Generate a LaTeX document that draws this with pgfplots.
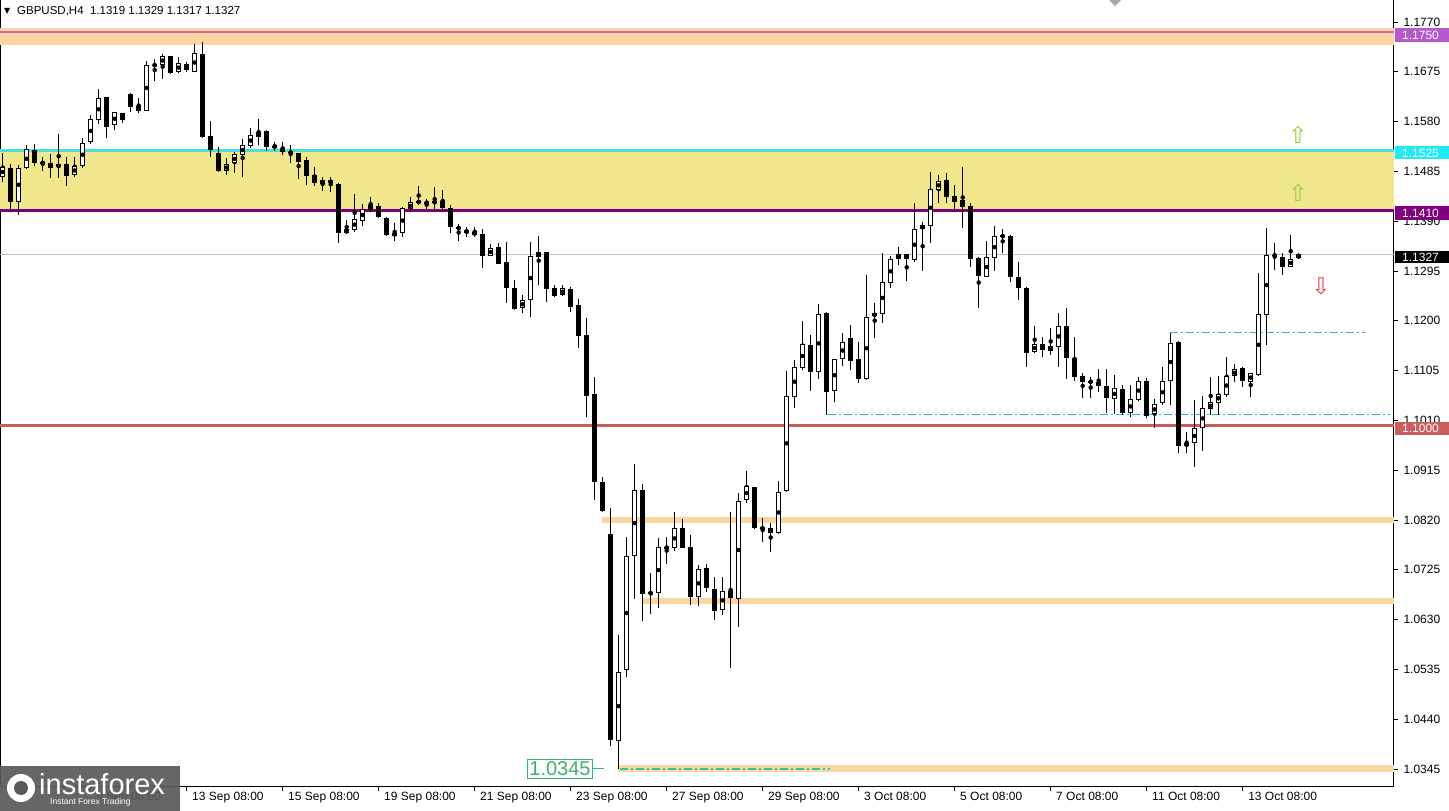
\documentclass[border=0pt]{standalone}
\usepackage{pgfplots}
\pgfplotsset{compat=1.18}
\usepackage{pgfplotstable}
\usepackage{fontspec}
\setmainfont{Liberation Sans}
\newfontfamily\dejavu{DejaVu Sans}
\definecolor{zoneyellow}{RGB}{240,230,140}
\definecolor{peach}{RGB}{250,214,160}
\definecolor{pinkline}{RGB}{205,105,175}
\definecolor{pinkbox}{RGB}{180,90,205}
\definecolor{cyanline}{RGB}{70,225,215}
\definecolor{cyanbox}{RGB}{30,235,245}
\definecolor{purpleline}{RGB}{128,0,128}
\definecolor{redline}{RGB}{205,92,92}
\definecolor{dashcyan}{RGB}{50,180,200}
\definecolor{lvlgreen}{RGB}{60,179,113}
\definecolor{arrgreen}{RGB}{154,205,50}
\definecolor{arrred}{RGB}{235,70,70}
\pgfplotstableread{
k o h l c
0 1.14749 1.15194 1.14654 1.14927
1 1.14921 1.14984 1.14081 1.14272
2 1.14272 1.14972 1.14018 1.14921
3 1.14908 1.15353 1.14890 1.15277
4 1.15258 1.15366 1.14959 1.15016
5 1.15023 1.15131 1.14863 1.15003
6 1.15003 1.15175 1.14730 1.14908
7 1.14927 1.15563 1.14717 1.14984
8 1.14984 1.15118 1.14571 1.14768
9 1.14781 1.15131 1.14749 1.14953
10 1.14953 1.15480 1.14908 1.15385
11 1.15404 1.15926 1.15366 1.15843
12 1.15830 1.16415 1.15747 1.16243
13 1.16263 1.16270 1.15480 1.15703
14 1.15735 1.15989 1.15639 1.15976
15 1.15957 1.15970 1.15767 1.15830
16 1.16326 1.16351 1.15976 1.16072
17 1.16097 1.16243 1.15970 1.16008
18 1.16008 1.16956 1.15995 1.16879
19 1.16867 1.16987 1.16580 1.16886
20 1.16879 1.17089 1.16606 1.17051
21 1.17051 1.17060 1.16701 1.16733
22 1.16752 1.17026 1.16720 1.16911
23 1.16898 1.16930 1.16752 1.16784
24 1.16752 1.17280 1.16745 1.17102
25 1.17089 1.17324 1.15493 1.15512
26 1.15525 1.15817 1.15118 1.15258
27 1.15194 1.15321 1.14844 1.14864
28 1.14864 1.15099 1.14781 1.14984
29 1.15004 1.15226 1.14826 1.15175
30 1.15163 1.15461 1.14749 1.15353
31 1.15334 1.15671 1.15302 1.15544
32 1.15512 1.15849 1.15353 1.15608
33 1.15627 1.15639 1.15245 1.15322
34 1.15334 1.15417 1.15245 1.15309
35 1.15290 1.15417 1.15163 1.15220
36 1.15216 1.15353 1.15016 1.15207
37 1.15194 1.15207 1.14698 1.15035
38 1.15067 1.15131 1.14590 1.14768
39 1.14781 1.14940 1.14571 1.14622
40 1.14609 1.14749 1.14476 1.14686
41 1.14686 1.14749 1.14463 1.14622
42 1.14610 1.14623 1.13478 1.13669
43 1.13669 1.13923 1.13656 1.13745
44 1.13732 1.14419 1.13701 1.13936
45 1.13910 1.14228 1.13809 1.14127
46 1.14114 1.14368 1.14082 1.14209
47 1.14190 1.14241 1.13955 1.13987
48 1.13955 1.13987 1.13618 1.13637
49 1.13618 1.13872 1.13523 1.13682
50 1.13682 1.14165 1.13592 1.14146
51 1.14127 1.14356 1.14101 1.14260
52 1.14279 1.14572 1.14209 1.14260
53 1.14260 1.14317 1.14114 1.14247
54 1.14241 1.14559 1.14082 1.14286
55 1.14286 1.14495 1.14082 1.14146
56 1.14145 1.14209 1.13681 1.13795
57 1.13795 1.13846 1.13528 1.13744
58 1.13732 1.13795 1.13605 1.13681
59 1.13700 1.13795 1.13605 1.13636
60 1.13655 1.13744 1.13000 1.13242
61 1.13242 1.13465 1.13235 1.13382
62 1.13401 1.13477 1.13077 1.13083
63 1.13128 1.13509 1.12333 1.12632
64 1.12619 1.12778 1.12206 1.12225
65 1.12237 1.12492 1.12155 1.12396
66 1.12396 1.13509 1.12078 1.13236
67 1.13223 1.13617 1.12682 1.13306
68 1.13306 1.13318 1.12365 1.12600
69 1.12632 1.12682 1.12460 1.12473
70 1.12492 1.12683 1.12473 1.12619
71 1.12600 1.12651 1.12174 1.12270
72 1.12301 1.12409 1.11475 1.11716
73 1.11729 1.12047 1.10171 1.10572
74 1.10604 1.10921 1.08581 1.08931
75 1.08925 1.09014 1.08359 1.08378
76 1.07926 1.08422 1.03888 1.04003
77 1.03990 1.06006 1.03443 1.05306
78 1.05338 1.07882 1.05211 1.07513
79 1.07513 1.09268 1.06686 1.08772
80 1.08772 1.08880 1.06279 1.06788
81 1.06782 1.07195 1.06407 1.06826
82 1.06814 1.07850 1.06515 1.07678
83 1.07672 1.07882 1.07354 1.07678
84 1.07660 1.08359 1.07615 1.08041
85 1.08041 1.08213 1.07660 1.07673
86 1.07679 1.07914 1.06579 1.06738
87 1.06725 1.07342 1.06566 1.07259
88 1.07278 1.07361 1.06833 1.06897
89 1.06878 1.07107 1.06293 1.06471
90 1.06483 1.07107 1.06388 1.06852
91 1.06852 1.08359 1.05371 1.06706
92 1.06687 1.08722 1.06165 1.08569
93 1.08582 1.09142 1.08518 1.08849
94 1.08824 1.08830 1.08022 1.08041
95 1.08022 1.08232 1.07787 1.08060
96 1.08041 1.08137 1.07596 1.07946
97 1.07946 1.08951 1.07933 1.08741
98 1.08759 1.11048 1.08740 1.10565
99 1.10552 1.11252 1.10343 1.11125
100 1.11106 1.11996 1.11061 1.11551
101 1.11538 1.11729 1.10667 1.11029
102 1.11017 1.12320 1.10889 1.12123
103 1.12142 1.12161 1.10203 1.10648
104 1.10660 1.11277 1.10457 1.11265
105 1.11265 1.11773 1.11137 1.11602
106 1.11665 1.11920 1.11061 1.11239
107 1.11265 1.11602 1.10819 1.10889
108 1.10889 1.12874 1.10870 1.12066
109 1.12091 1.12346 1.11665 1.12142
110 1.12129 1.13300 1.11964 1.12746
111 1.12715 1.13237 1.12620 1.13173
112 1.13173 1.13402 1.13065 1.13268
113 1.13268 1.13275 1.12766 1.13173
114 1.13160 1.14254 1.13128 1.13745
115 1.13745 1.13892 1.12957 1.13828
116 1.13809 1.14845 1.13478 1.14508
117 1.14496 1.14782 1.14241 1.14674
118 1.14686 1.14826 1.14241 1.14369
119 1.14381 1.14591 1.14082 1.14273
120 1.14305 1.14941 1.13764 1.14178
121 1.14197 1.14254 1.13020 1.13173
122 1.13192 1.13224 1.12238 1.12855
123 1.12842 1.13529 1.12835 1.13211
124 1.13192 1.13809 1.12957 1.13618
125 1.13592 1.13745 1.13287 1.13637
126 1.13618 1.13637 1.12747 1.12842
127 1.12829 1.13128 1.12397 1.12619
128 1.12619 1.12651 1.11112 1.11392
129 1.11411 1.11901 1.11379 1.11551
130 1.11558 1.11697 1.11316 1.11443
131 1.11430 1.11869 1.11348 1.11519
132 1.11507 1.12155 1.11112 1.11901
133 1.11901 1.12238 1.10883 1.11284
134 1.11297 1.11685 1.10858 1.10934
135 1.10947 1.10998 1.10521 1.10839
136 1.10845 1.10934 1.10521 1.10833
137 1.10839 1.11074 1.10648 1.10763
138 1.10763 1.11074 1.10234 1.10521
139 1.10502 1.10966 1.10222 1.10711
140 1.10692 1.10775 1.10203 1.10234
141 1.10234 1.10775 1.10171 1.10502
142 1.10489 1.10934 1.10476 1.10851
143 1.10851 1.10902 1.10139 1.10190
144 1.10215 1.10508 1.09948 1.10406
145 1.10425 1.11125 1.10393 1.10851
146 1.10858 1.11761 1.10393 1.11570
147 1.11602 1.11614 1.09484 1.09618
148 1.09618 1.09885 1.09471 1.09662
149 1.09662 1.10489 1.09204 1.09948
150 1.09948 1.10565 1.09522 1.10330
151 1.10311 1.10934 1.10203 1.10444
152 1.10438 1.10947 1.10203 1.10604
153 1.10585 1.11316 1.10553 1.10947
154 1.10947 1.11176 1.10839 1.11074
155 1.11106 1.11125 1.10731 1.10858
156 1.10839 1.11011 1.10540 1.10998
157 1.10966 1.12918 1.10947 1.12123
158 1.12111 1.13764 1.11538 1.13255
159 1.13243 1.13478 1.12969 1.13255
160 1.13211 1.13287 1.12874 1.13033
161 1.13033 1.13637 1.13020 1.13173
162 1.13190 1.13290 1.13170 1.13270
}\candles
\begin{document}
\begin{tikzpicture}[x=1pt,y=1pt]
\begin{axis}[
  at={(0,0)}, anchor=south west,
  scale only axis, width=1394pt, height=787pt,
  xmin=-0.3375, xmax=173.91, ymin=1.03107, ymax=1.18120,
  clip mode=individual,
  axis line style={line width=1pt, black},
  xtick={11,23,35,47,59,71,83,95,107,119,131,143,155},
  xticklabels={9 Sep 08:00,13 Sep 08:00,15 Sep 08:00,19 Sep 08:00,21 Sep 08:00,23 Sep 08:00,27 Sep 08:00,29 Sep 08:00,3 Oct 08:00,5 Oct 08:00,7 Oct 08:00,11 Oct 08:00,13 Oct 08:00},
  xtick pos=bottom, ytick pos=right,
  tick align=outside, major tick length=4pt,
  tick style={black, line width=1pt},
  x tick label style={anchor=north west, xshift=2pt, yshift=2pt, font=\fontsize{12}{14}\selectfont},
  ytick={1.0345,1.0440,1.0535,1.0630,1.0725,1.0820,1.0915,1.1010,1.1105,1.1200,1.1295,1.1390,1.1485,1.1580,1.1675,1.1770},
  yticklabel pos=right,
  y tick label style={anchor=west, xshift=2pt, font=\fontsize{12}{14}\selectfont,
    /pgf/number format/fixed, /pgf/number format/fixed zerofill, /pgf/number format/precision=4},
  /pgf/number format/assume math mode=true,
  scaled y ticks=false,
]
% zones
\addplot[draw=none, fill=zoneyellow, forget plot] coordinates {(-0.3375,1.1410) (173.91,1.1410) (173.91,1.1525) (-0.3375,1.1525)} -- cycle;
\addplot[draw=none, fill=peach, forget plot] coordinates {(-0.3375,1.1727) (173.91,1.1727) (173.91,1.1758) (-0.3375,1.1758)} -- cycle;
\addplot[peach, line width=6pt, forget plot] coordinates {(74.9,1.08208) (173.91,1.08208)};
\addplot[peach, line width=6pt, forget plot] coordinates {(80.0,1.06655) (173.91,1.06655)};
\addplot[peach, line width=7pt, forget plot] coordinates {(76.9,1.0346) (173.91,1.0346)};
% levels
\addplot[pinkline, line width=2pt, forget plot] coordinates {(-0.3375,1.1750) (173.91,1.1750)};
\addplot[cyanline, line width=3pt, forget plot] coordinates {(-0.3375,1.1525) (173.91,1.1525)};
\addplot[purpleline, line width=3pt, forget plot] coordinates {(-0.3375,1.1410) (173.91,1.1410)};
\addplot[redline, line width=3pt, forget plot] coordinates {(-0.3375,1.1000) (173.91,1.1000)};
\addplot[black!25, line width=1pt, forget plot] coordinates {(-0.3375,1.1327) (173.91,1.1327)};
\addplot[dashcyan, line width=1.2pt, dash pattern=on 8pt off 3pt on 2pt off 3pt, forget plot] coordinates {(145.9,1.1177) (170.3,1.1177)};
\addplot[dashcyan, line width=1.2pt, dash pattern=on 8pt off 3pt on 2pt off 3pt, forget plot] coordinates {(103.2,1.10215) (173.4,1.10215)};
\addplot[lvlgreen!70!cyan, line width=1.2pt, dash pattern=on 8pt off 3pt on 2pt off 3pt, forget plot] coordinates {(77.2,1.0345) (103.4,1.0345)};
% wicks
\addplot[only marks, mark=none, forget plot,
  error bars/.cd, y dir=both, y explicit, error mark=none,
  error bar style={line width=1pt, draw=black}]
  table[x=k, y expr={(\thisrow{h}+\thisrow{l})/2}, y error expr={(\thisrow{h}-\thisrow{l})/2}] {\candles};
% bodies outer
\addplot[only marks, mark=none, forget plot,
  error bars/.cd, y dir=both, y explicit, error mark=none,
  error bar style={line width=5pt, draw=black}]
  table[x=k, y expr={(\thisrow{o}+\thisrow{c})/2}, y error expr={max(abs(\thisrow{c}-\thisrow{o})/2,0.0001)}] {\candles};
% bodies inner (bullish)
\addplot[only marks, mark=none, forget plot,
  error bars/.cd, y dir=both, y explicit, error mark=none,
  error bar style={line width=3pt, draw=white}]
  table[x=k, y expr={(\thisrow{o}+\thisrow{c})/2}, y error expr={ifthenelse(\thisrow{c}>\thisrow{o}, max((\thisrow{c}-\thisrow{o})/2-0.00019,0), 0)}] {\candles};
\end{axis}
% shift marker
\fill[black!35] (1109,787) -- (1121,787) -- (1115,781) -- cycle;
% right price labels
\fill[pinkbox] (1395,745.3) rectangle (1449,758.7);
\node[anchor=west, text=white, font=\fontsize{12}{14}\selectfont, inner sep=0pt] at (1402,752) {1.1750};
\fill[cyanbox] (1395,627.5) rectangle (1449,640.5);
\node[anchor=west, text=white, font=\fontsize{12}{14}\selectfont, inner sep=0pt] at (1402,634) {1.1525};
\fill[purpleline] (1395,567) rectangle (1449,581);
\node[anchor=west, text=white, font=\fontsize{12}{14}\selectfont, inner sep=0pt] at (1402,574) {1.1410};
\fill[black] (1395,523.5) rectangle (1449,535.5);
\node[anchor=west, text=white, font=\fontsize{12}{14}\selectfont, inner sep=0pt] at (1402,529.5) {1.1327};
\fill[redline] (1395,352) rectangle (1449,365.4);
\node[anchor=west, text=white, font=\fontsize{12}{14}\selectfont, inner sep=0pt] at (1402,358.7) {1.1000};
% title
\node[anchor=west, font=\dejavu\fontsize{8}{9}\selectfont, inner sep=0pt] at (4,776) {▼};
\node[anchor=west, font=\fontsize{11.5}{13}\selectfont, inner sep=0pt] at (17,776) {GBPUSD,H4\ \ 1.1319 1.1329 1.1317 1.1327};
% arrows
\node[text=arrgreen, font=\dejavu\fontsize{23}{24}\selectfont, inner sep=0pt] at (1298,652) {⇧};
\node[text=arrgreen, font=\dejavu\fontsize{23}{24}\selectfont, inner sep=0pt] at (1298,594) {⇧};
\node[text=arrred, font=\dejavu\fontsize{23}{24}\selectfont, inner sep=0pt] at (1321,501) {⇩};
% 1.0345 label
\draw[lvlgreen, line width=1pt] (592,18) -- (604,18);
\node[draw=lvlgreen, fill=white, text=lvlgreen, font=\fontsize{20}{22}\selectfont, inner xsep=2pt, inner ysep=2pt, line width=1pt] at (560,18) {1.0345};
% watermark logo
\fill[black!65, opacity=0.92] (0,-24) rectangle (180,21);
\fill[white] (21,-1) circle (14);
\fill[black!65] (21,-1) circle (7);
\node[anchor=west, text=white, font=\fontsize{29}{30}\selectfont, inner sep=0pt] at (39,3) {instaforex};
\node[anchor=west, text=white, font=\fontsize{8.5}{9}\selectfont, inner sep=0pt] at (50,-15) {Instant Forex Trading};
\pgfresetboundingbox
\path[use as bounding box] (0,-24) rectangle (1449,787);
\end{tikzpicture}
\end{document}
